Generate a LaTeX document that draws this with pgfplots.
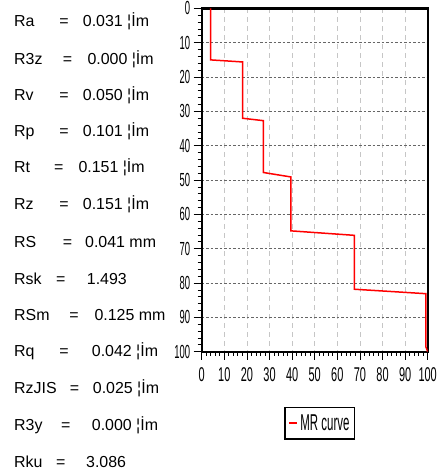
\documentclass[border=0pt]{standalone}
\usepackage{fontspec}
\setmainfont{Liberation Sans}
\newfontfamily\narrowfont[FakeStretch=0.55]{Liberation Sans}
\newfontfamily\ynarrowfont[FakeStretch=0.5]{Liberation Sans}
\newfontfamily\legfont[FakeStretch=0.5]{Liberation Sans}
\usepackage{pgfplots}
\pgfplotsset{compat=1.18}
\begin{document}
\begin{tikzpicture}
\path[use as bounding box] (0bp,0bp) rectangle (437bp,472bp);
\begin{axis}[
  at={(201.7bp,120.3bp)}, anchor=south west,
  scale only axis, width=226bp, height=343.3bp,
  xmin=0, xmax=100, ymin=0, ymax=100, y dir=reverse,
  xtick={0,10,...,100}, ytick={0,10,...,100},
  minor tick num=4,
  tick align=outside,
  major tick length=8bp, minor tick length=4bp,
  xtick pos=bottom, ytick pos=left,
  tick style={black, line width=0.8bp},
  axis line style={line width=2.4bp, black},
  grid=major,
  x grid style={dash pattern=on 5bp off 4bp, gray!45, line width=0.8bp},
  y grid style={dash pattern=on 2.5bp off 2bp, black!60, line width=0.8bp},
  /pgf/number format/assume math mode=true,
  xticklabel style={font=\narrowfont\fontsize{20}{20}\selectfont, yshift=-4bp},
  yticklabel style={font=\ynarrowfont\fontsize{19}{19}\selectfont},
  legend style={at={(0.522,-0.208)}, anchor=center, draw=black, line width=1.8bp,
    font=\legfont\fontsize{23}{23}\selectfont, inner xsep=3bp, inner ysep=5bp},
  legend image code/.code={\draw[red, line width=2.5bp] (0bp,0bp) -- (8bp,0bp);},
]
\addplot[red, line width=1.5bp] coordinates {
 (4,0) (4,15) (18.1,15.6) (18.1,32) (27.3,32.7) (27.3,47.8) (39.5,49.1)
 (39.5,64.8) (67.5,66.1) (67.5,81.8) (99.2,83.1) (99.2,98.6) (100,100)
};
\addlegendentry{MR curve}
\end{axis}
\begin{scope}[every node/.style={inner sep=0pt, anchor=base west, font=\fontsize{16}{16}\selectfont}]
\newcommand\row[5]{%
  \node at (14bp,{(472-#5-5.8)*1bp}) {#1};
  \node[anchor=base] at (#2bp,{(472-#5-5.8)*1bp}) {=};
  \node at (#3bp,{(472-#5-5.8)*1bp}) {#4};}
\row{Ra}{64}{82.7}{0.031 ¦İm}{20.8}
\row{R3z}{67.5}{87.3}{0.000 ¦İm}{58.3}
\row{Rv}{64}{82.7}{0.050 ¦İm}{95}
\row{Rp}{64}{82.7}{0.101 ¦İm}{130.8}
\row{Rt}{58.7}{78.3}{0.151 ¦İm}{167}
\row{Rz}{64}{82.7}{0.151 ¦İm}{204}
\row{RS}{67.5}{85}{0.041 mm}{241.7}
\row{Rsk}{60.8}{86.7}{1.493}{278.3}
\row{RSm}{74}{94.3}{0.125 mm}{315}
\row{Rq}{64}{91.7}{0.042 ¦İm}{350.8}
\row{RzJIS}{74.5}{92.7}{0.025 ¦İm}{388}
\row{R3y}{65.8}{91.7}{0.000 ¦İm}{425}
\row{Rku}{60.8}{86}{3.086}{461.7}
\end{scope}
\end{tikzpicture}
\end{document}
